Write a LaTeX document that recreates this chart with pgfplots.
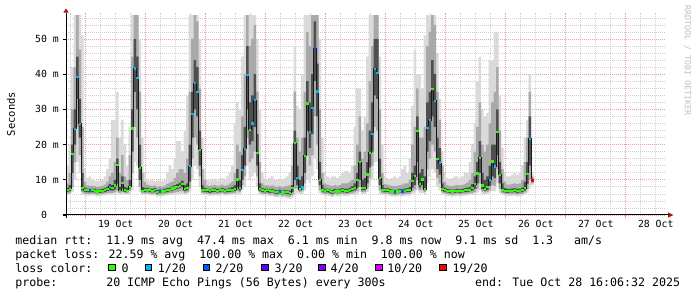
\documentclass[border=0pt]{standalone}
\usepackage{fontspec}
\setmainfont{DejaVu Sans Mono}
\newfontfamily\dvm{DejaVu Sans Mono}
\usepackage{pgfplots}
\pgfplotsset{compat=1.18}
\usepgfplotslibrary{fillbetween}
\usepackage{pgfplotstable}
\definecolor{LG}{HTML}{26FF00}
\definecolor{C1}{HTML}{00B8FF}
\definecolor{C2}{HTML}{0059FF}
\definecolor{C3}{HTML}{5E00FF}
\definecolor{C4}{HTML}{7E00FF}
\definecolor{C10}{HTML}{DD00FF}
\definecolor{C19}{HTML}{FF0000}
\definecolor{GRID}{HTML}{CFCFCF}
\definecolor{MGRID}{HTML}{E4A0A0}
\definecolor{SM1}{HTML}{DADADA}
\definecolor{SM2}{HTML}{A9A9A9}
\definecolor{SM3}{HTML}{4F4F4F}
\definecolor{ARR}{HTML}{9E1A1A}
\definecolor{WM}{HTML}{C0C0C0}
\newcommand\legfont{\dvm\fontsize{11.6pt}{14pt}\selectfont}
\newcommand\tickfont{\dvm\fontsize{9.8pt}{12pt}\selectfont}
\pgfdeclareplotmark{hbar}{\pgfpathrectangle{\pgfqpoint{0pt}{-1.1pt}}{\pgfqpoint{2.6pt}{2.2pt}}\pgfusepathqfill}

\pgfplotstableread{
t m c lo l1 d1 d2 h1 hi
-7.8 7.0 g 5.7 6.1 6.6 7.6 9.0 14
-6.8 7.4 g 5.8 6.3 6.8 8.5 12 20
-5.8 17.3 g 6.5 8 12 20 30 42
-4.8 24.5 c 10 15 20 30 42 56.8
-3.8 39.1 c 15 25 33 45 56.8 56.8
-2.8 25.9 c 12 17 22 33 47 56.8
-1.8 7.6 g 5.8 6.5 7 12 25 51
-0.8 7.2 g 5.6 6.0 6.6 7.8 9.5 13
0.2 7.0 g 5.5 6.0 6.5 7.5 8.4 10.5
1.2 6.9 b 5.5 6.0 6.4 7.4 8.3 11
2.2 7.0 g 5.6 6.1 6.5 7.5 8.3 10
3.2 6.9 g 5.5 6.0 6.4 7.4 8.2 9.8
4.2 6.7 g 5.3 5.8 6.2 7.2 8.0 9.6
5.2 6.8 g 5.4 5.9 6.3 7.3 8.1 9.7
6.2 6.9 g 5.5 6.0 6.4 7.4 8.3 10
7.2 7.0 g 5.6 6.1 6.5 7.6 8.6 11
8.2 7.3 g 5.7 6.2 6.8 8.0 9.5 13
9.2 8.0 c 5.8 6.3 7.0 8.8 11 16
10.2 7.6 g 5.8 6.3 6.9 8.5 12 27
11.2 8.4 g 6.0 6.5 7.2 10 15 27
12.2 14.1 g 6.2 7.0 9 16 22 35
13.2 6.9 g 5.9 6.3 6.6 8 12 22
14.2 9.2 g 6.0 6.6 7.5 11 17 27
15.2 7.0 g 5.8 6.2 6.6 8 11 20
16.2 6.9 g 5.8 6.2 6.5 7.8 10 14
17.2 8.0 g 6.0 6.8 7.5 10 17 25
18.2 24.6 g 7 12 18 30 45 56.8
19.2 41.6 c 15 25 35 50 56.8 56.8
20.2 39.0 c 14 22 30 45 56.8 56.8
21.2 13.4 g 6.5 8 10 20 35 50
22.2 6.9 g 5.8 6.2 6.6 8 12 22
23.2 7.0 g 5.7 6.1 6.5 7.7 9.5 12
24.2 7.2 g 5.7 6.2 6.7 7.7 8.6 10
25.2 7.0 g 5.6 6.1 6.5 7.5 8.4 9.8
26.2 6.9 g 5.5 6.0 6.4 7.4 8.2 10
27.2 7.1 g 5.6 6.1 6.6 7.6 8.4 9.6
28.2 6.6 g 5.2 5.7 6.1 7.1 8.0 9.8
29.2 6.8 b 5.3 5.8 6.3 7.3 8.2 10
30.2 6.7 g 5.3 5.8 6.2 7.2 8.0 9.6
31.2 6.9 g 5.5 6.0 6.4 7.4 8.3 10
32.2 7.0 g 5.6 6.1 6.5 7.6 8.8 12
33.2 7.2 g 5.7 6.2 6.7 7.8 9.2 14
34.2 7.5 g 5.8 6.3 6.9 8.1 9.5 13
35.2 7.8 g 5.9 6.4 7.2 8.5 10.5 16
36.2 8.0 g 6.0 6.6 7.4 8.8 12 21
37.2 8.3 g 6.0 6.7 7.6 9.2 13 21
38.2 8.7 g 6.1 6.8 7.9 9.8 13 18
39.2 7.3 g 5.8 6.3 6.8 8.5 12 24
40.2 7.6 g 5.9 6.4 7.0 9 16 34
41.2 13.9 c 6.5 7.5 9.5 20 35 56.8
42.2 28.7 c 10 16 22 35 50 56.8
43.2 37.4 c 14 22 30 44 56.8 56.8
44.2 35.0 c 13 20 28 42 55 56.8
45.2 18.5 g 8 11 14 24 36 50
46.2 7.1 g 5.8 6.2 6.7 8.5 13 22
47.2 7.2 g 5.7 6.1 6.6 7.8 10 13
48.2 7.0 g 5.6 6.1 6.5 7.5 8.4 10
49.2 6.8 g 5.4 5.9 6.3 7.3 8.2 9.8
50.2 7.0 g 5.5 6.0 6.5 7.5 8.4 10
51.2 7.1 g 5.6 6.1 6.6 7.6 8.5 10.3
52.2 6.9 g 5.5 6.0 6.4 7.4 8.3 9.8
53.2 7.0 g 5.6 6.1 6.5 7.5 8.4 10
54.2 7.2 g 5.7 6.2 6.7 7.7 8.6 10.5
55.2 6.9 g 5.5 6.0 6.4 7.4 8.3 10
56.2 7.0 g 5.6 6.1 6.5 7.5 8.5 11
57.2 7.1 g 5.6 6.1 6.6 7.7 9 12
58.2 7.2 g 5.7 6.2 6.7 8.0 9.5 14
59.2 7.3 g 5.8 6.3 6.8 8.5 12 26
60.2 10.1 g 6 6.8 8 13 20 32
61.2 7.6 g 6 6.5 7 10 18 30
62.2 12.8 c 7 8.5 10 17 28 45
63.2 18.8 c 8 11 14 25 40 56.8
64.2 39.7 c 14 22 30 48 56.8 56.8
65.2 24.2 g 10 15 20 32 48 56.8
66.2 26.0 c 11 16 21 34 50 56.8
67.2 32.6 c 12 18 25 40 54 56.8
68.2 17.7 g 8 11 14 23 35 50
69.2 7.3 g 6 6.4 6.8 9 15 30
70.2 7.0 g 5.6 6.1 6.5 7.6 9 12
71.2 6.9 g 5.5 6.0 6.4 7.4 8.4 10.5
72.2 7.0 g 5.5 6.0 6.5 7.5 8.4 10
73.2 6.8 g 5.3 5.8 6.3 7.3 8.3 10.5
74.2 6.9 g 5.4 5.9 6.4 7.4 8.4 11
75.2 6.6 g 5.1 5.6 6.1 7.1 8.1 10
76.2 6.5 g 5.0 5.5 6.0 7.0 8.0 10
77.2 6.7 b 5.1 5.7 6.2 7.2 8.2 10.3
78.2 6.4 g 4.9 5.4 5.9 6.9 7.9 10
79.2 6.6 g 5.0 5.5 6.1 7.1 8.1 10.5
80.2 6.5 g 4.7 5.3 6.0 7.0 8.3 11
81.2 6.3 g 4.6 5.2 5.8 6.9 8.5 12
82.2 7.6 g 4.9 5.6 6.5 8.5 14 20
83.2 20.4 g 6 7.5 10 24 35 48
84.2 10.4 c 6.3 7.5 8.5 14 22 31
85.2 7.3 g 6 6.5 7 10 18 30
86.2 7.8 c 6 6.7 7.3 11 22 40
87.2 16.8 g 7 9 12 22 35 56.8
88.2 31.7 g 10 17 24 38 52 56.8
89.2 23.6 c 9 14 19 32 48 56.8
90.2 30.3 c 11 17 23 40 56.8 56.8
91.2 47.3 b 16 28 38 55 56.8 56.8
92.2 35.1 c 13 20 28 43 56.8 56.8
93.2 10.0 g 6.2 7 8.5 15 30 50
94.2 7.2 g 5.8 6.2 6.7 8.5 12 22
95.2 6.9 g 5.5 6.0 6.4 7.5 9 12
96.2 7.0 g 5.5 6.0 6.5 7.5 8.6 11
97.2 6.8 g 5.3 5.8 6.3 7.3 8.4 10.5
98.2 6.5 g 5.1 5.6 6.0 7.0 8.2 11
99.2 6.9 g 5.4 5.9 6.4 7.4 8.5 11
100.2 6.7 g 5.3 5.8 6.2 7.2 8.3 10.5
101.2 6.9 g 5.4 5.9 6.4 7.4 8.5 11
102.2 7.0 g 5.5 6.0 6.5 7.6 9 12
103.2 6.9 g 5.4 5.9 6.4 7.5 9 12.5
104.2 6.8 g 5.4 5.9 6.3 7.4 9 12.5
105.2 7.1 g 5.6 6.1 6.6 7.8 9.5 12
106.2 7.3 g 5.7 6.2 6.8 8.2 10 14
107.2 7.6 g 5.9 6.4 7.0 9 14 25
108.2 9.9 g 6 6.8 7.8 12 20 36
109.2 15.0 g 6.5 8 10 18 28 36
110.2 7.6 g 6 6.5 7 10 16 24
111.2 7.6 g 6 6.5 7.1 10.5 18 28
112.2 11.5 g 6.5 7.5 9 15 26 45
113.2 17.7 g 8 10.5 13.5 24 38 56.8
114.2 23.0 c 10 14 18 32 48 56.8
115.2 41.5 c 15 25 34 50 56.8 56.8
116.2 40.4 c 15 24 33 50 56.8 56.8
117.2 10.4 g 6 7 8.5 16 30 45
118.2 7.1 g 5.8 6.2 6.7 8.5 12 20
119.2 7.0 g 5.6 6.1 6.5 7.6 8.8 11
120.2 7.1 g 5.6 6.1 6.6 7.6 8.6 10.5
121.2 6.9 g 5.4 5.9 6.4 7.4 8.4 10
122.2 6.7 g 5.3 5.8 6.2 7.2 8.2 10.5
123.2 6.6 b 5.2 5.7 6.1 7.1 8.2 11
124.2 6.7 g 5.3 5.8 6.2 7.2 8.3 10.5
125.2 6.9 g 5.4 5.9 6.4 7.4 8.5 11
126.2 6.7 b 5.3 5.8 6.2 7.3 8.6 13
127.2 6.9 g 5.4 5.9 6.4 7.5 9 14
128.2 7.0 g 5.5 6.0 6.5 7.6 9 12
129.2 7.1 g 5.6 6.1 6.6 8 10 16
130.2 9.7 g 6 6.8 7.8 12 20 31
131.2 11.0 g 6.2 7.2 8.5 14 25 47
132.2 23.9 g 7 10 15 28 36 40
133.2 8.8 g 6.2 7 7.8 12 22 40
134.2 10.1 g 6.2 7.2 8.5 13 22 36
135.2 7.3 g 6 6.6 7 11 25 51
136.2 24.8 c 9 13 18 32 48 56.8
137.2 27.0 c 11 16 21 35 52 56.8
138.2 35.8 g 13 20 28 44 56.8 56.8
139.2 32.4 c 12 18 25 40 54 56.8
140.2 15.8 g 8 10.5 13 22 35 46
141.2 14.7 c 7 9 11.5 19 27 33
142.2 7.4 g 5.9 6.4 6.9 9 14 18
143.2 7.0 g 5.6 6.1 6.5 7.8 9.5 12
144.2 6.9 g 5.4 5.9 6.4 7.4 8.5 10.5
145.2 6.8 g 5.3 5.8 6.3 7.3 8.3 10
146.2 6.7 g 5.2 5.7 6.2 7.2 8.2 10.5
147.2 6.8 g 5.3 5.8 6.3 7.3 8.4 11
148.2 6.9 g 5.4 5.9 6.4 7.4 8.5 11
149.2 6.8 g 5.3 5.8 6.3 7.3 8.4 10.5
150.2 6.9 g 5.4 5.9 6.4 7.4 8.5 11
151.2 7.0 g 5.5 6.0 6.5 7.6 8.8 12
152.2 7.1 g 5.6 6.1 6.6 7.8 9.2 12
153.2 7.2 g 5.7 6.2 6.7 8.0 10 15
154.2 7.6 g 5.8 6.3 6.9 8.8 12 20
155.2 8.7 g 6 6.6 7.4 11 18 26
156.2 11.8 g 6.3 7.4 9 15 25 38
157.2 16.3 g 7 9 12 21 32 45
158.2 8.4 g 6 6.7 7.4 12 20 30
159.2 7.4 g 5.9 6.4 6.9 10 18 28
160.2 7.9 g 6 6.5 7.1 11 20 29
161.2 10.0 c 6.2 7 8.3 14 26 44
162.2 15.2 g 6.8 8.5 11 20 32 44
163.2 13.8 c 6.7 8.3 10.5 20 35 52
164.2 23.5 g 9 13 17 30 42 52
165.2 11.4 g 6.3 7.4 9 15 24 34
166.2 7.1 g 5.9 6.3 6.8 9 13 19
167.2 6.9 g 5.5 6.0 6.4 7.6 9.5 12
168.2 6.8 g 5.4 5.9 6.3 7.4 8.6 11
169.2 6.9 g 5.4 5.9 6.4 7.4 8.6 11
170.2 6.9 g 5.4 5.9 6.4 7.5 8.8 11.5
171.2 7.0 g 5.5 6.0 6.5 7.6 9 12
172.2 6.8 g 5.3 5.8 6.3 7.4 8.8 11.5
173.2 6.9 g 5.4 5.9 6.4 7.5 9 12
174.2 7.0 g 5.5 6.0 6.5 7.8 10 14
175.2 7.6 g 5.9 6.4 6.9 9.5 15 22
176.2 11.6 g 6.2 7.3 8.8 15 22 27
177.2 21.7 c 7.5 10 14 28 35 40
178.2 9.8 r 8.5 9 9.4 10.3 11 12
179.2 9.8 r 8.5 9 9.4 10.3 11 12
}\data

\begin{document}
\begin{tikzpicture}
\begin{axis}[
  at={(66pt,82pt)}, anchor=south west,
  scale only axis, width=600pt, height=202.4pt,
  xmin=-7.88, xmax=232.12, ymin=0, ymax=57.5,
  axis line style={draw=none},
  tick style={draw=none},
  xtick={0,24,...,216}, xticklabels={},
  minor xtick={-6,6,12,18,30,36,42,54,60,66,78,84,90,102,108,114,126,132,138,150,156,162,174,180,186,198,204,210,222,228},
  extra x ticks={12,36,60,84,108,132,156,180,204,228},
  extra x tick labels={19 Oct,20 Oct,21 Oct,22 Oct,23 Oct,24 Oct,25 Oct,26 Oct,27 Oct,28 Oct},
  extra x tick style={grid=none, tick style={draw=none}},
  xticklabel style={font=\tickfont, anchor=base, yshift=-12.3pt, inner sep=0pt},
  ytick={0,10,...,50},
  yticklabels={0\phantom{~m},10 m,20 m,30 m,40 m,50 m},
  minor ytick={2,4,6,8,12,14,16,18,22,24,26,28,32,34,36,38,42,44,46,48,52,54,56},
  yticklabel style={font=\tickfont, anchor=east, inner sep=0pt, xshift=-7pt},
  grid=both,
  major grid style={draw=MGRID, dash pattern=on 1pt off 1pt, line width=0.7pt},
  minor grid style={draw=GRID, dash pattern=on 1pt off 1pt, line width=0.7pt},
]
\addplot[draw=none, const plot mark left, name path=hi] table[x=t,y=hi]{\data};
\addplot[draw=none, const plot mark left, name path=lo] table[x=t,y=lo]{\data};
\addplot[draw=none, const plot mark left, name path=hone] table[x=t,y=h1]{\data};
\addplot[draw=none, const plot mark left, name path=lone] table[x=t,y=l1]{\data};
\addplot[draw=none, const plot mark left, name path=dtwo] table[x=t,y=d2]{\data};
\addplot[draw=none, const plot mark left, name path=done] table[x=t,y=d1]{\data};
\addplot[SM1] fill between[of=hi and lo];
\addplot[SM2] fill between[of=hone and lone];
\addplot[SM3] fill between[of=dtwo and done];
\addplot[const plot mark left, draw=black!90, line width=0.9pt] table[x=t,y=m]{\data};
\addplot[scatter, only marks, point meta=explicit symbolic, skip coords between index={187}{188},
  scatter/classes={g={mark=hbar,LG}, c={mark=hbar,C1}, b={mark=hbar,C2}, r={mark=hbar,C19}}]
  table[x=t,y=m,meta=c]{\data};
\end{axis}
\begin{scope}[x=1pt,y=1pt]
% axis lines
\draw[black, line width=1pt] (62.7,82) -- (668,82);
\fill[ARR] (668,84.7) -- (673.5,82) -- (668,79.3) -- cycle;
\draw[black, line width=1pt] (66,78.7) -- (66,284.3);
\fill[ARR] (63.3,284.3) -- (66,288.6) -- (68.7,284.3) -- cycle;
\foreach \v in {0,10,20,30,40,50} \draw[black, line width=0.8pt] (62.7,82+3.52*\v) -- (66,82+3.52*\v);
\foreach \n in {0,...,9} \draw[MGRID, line width=0.8pt] (85.7+60*\n,82) -- (85.7+60*\n,79);
% titles
\node[rotate=90, font=\dvm\fontsize{10.5pt}{12pt}\selectfont, inner sep=0pt] at (11,183) {Seconds};
\node[rotate=-90, anchor=west, font=\dvm\fontsize{8.3pt}{10pt}\selectfont, text=WM, inner sep=0pt] at (687.5,292) {RRDTOOL / TOBI OETIKER};
% legend
\begin{scope}[every node/.style={font=\legfont, inner sep=0pt, anchor=base west}]
\node at (15.3,52.3) {median rtt:~~11.9 ms avg~~47.4 ms max~~6.1 ms min~~9.8 ms now~~9.1 ms sd~~1.3~~~am/s};
\node at (15.3,38.3) {packet loss: 22.59 \% avg~~100.00 \% max~~0.00 \% min~~100.00 \% now};
\node at (15.3,24.3) {loss color:};
\node at (15.3,10.3) {probe:~~~~~~~20 ICMP Echo Pings (56 Bytes) every 300s};
\node at (475,10.3) {end: Tue Oct 28 16:06:32 2025};
\node at (121.4,24.3) {0};
\node at (157.7,24.3) {1/20};
\node at (215.3,24.3) {2/20};
\node at (274.5,24.3) {3/20};
\node at (330.5,24.3) {4/20};
\node at (387.1,24.3) {10/20};
\node at (452.4,24.3) {19/20};
\end{scope}
\foreach \cx/\col in {111.7/LG,148.4/C1,206.6/C2,264.9/C3,321.8/C4,379.2/C10,443.2/C19}
  \filldraw[fill=\col, draw=black, line width=0.9pt] (\cx-3.3,26.4) rectangle (\cx+3.3,33);
\pgfresetboundingbox
\path[use as bounding box] (0,0) rectangle (697,297);
\end{scope}
\end{tikzpicture}
\end{document}
